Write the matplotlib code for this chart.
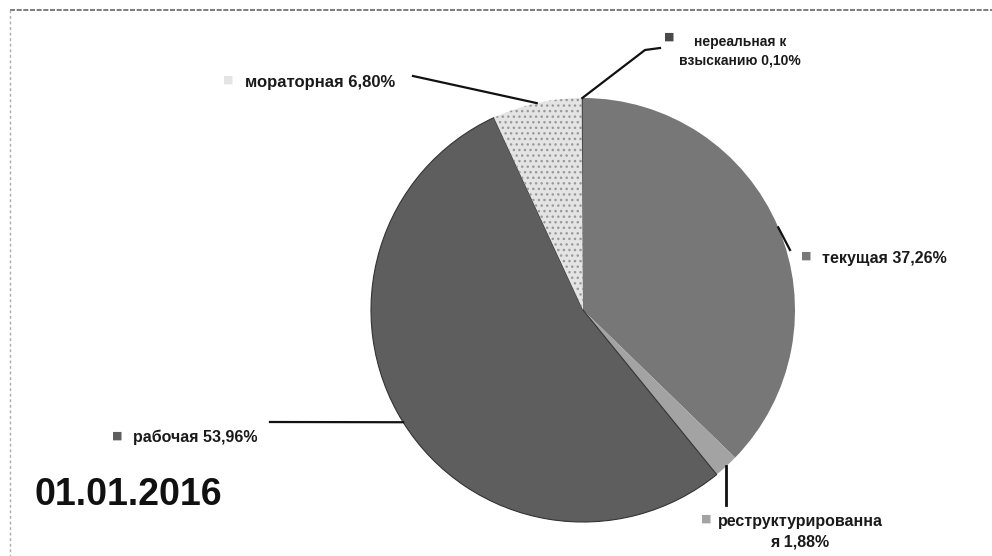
import matplotlib
matplotlib.use("Agg")
import matplotlib.pyplot as plt
from matplotlib.lines import Line2D
import numpy as np

# Data (clockwise from 12 o'clock)
categories = ["текущая", "реструктурированная", "рабочая", "мораторная", "нереальная к взысканию"]
shares = [37.26, 1.88, 53.96, 6.80, 0.10]
label_texts = [
    "текущая 37,26%",
    "реструктурированна\nя 1,88%",
    "рабочая 53,96%",
    "мораторная 6,80%",
    "нереальная к\nвзысканию 0,10%",
]
title = "01.01.2016"

colors = ["#777777", "#a3a3a3", "#5e5e5e", "#e4e4e4", "#4a4a4a"]
hatches = ["", "", "", "...", ""]
hatch_cols = ["#777777", "#a3a3a3", "#5e5e5e", "#9a9a9a", "#4a4a4a"]

W, H = 992, 556
fig = plt.figure(figsize=(W / 100, H / 100), dpi=100)
fig.patch.set_facecolor("white")

# pie placed by pixel center / radius
cx, cy, r = 583, 310, 212
ax = fig.add_axes([(cx - r) / W, (H - cy - r) / H, 2 * r / W, 2 * r / H])
ax.axis("off")

wedges, _ = ax.pie(shares, colors=colors, startangle=90, counterclock=False,
                   radius=1, wedgeprops=dict(linewidth=0))
ax.set_xlim(-1, 1)
ax.set_ylim(-1, 1)
ax.set_aspect("equal")
for w, h, hc in zip(wedges, hatches, hatch_cols):
    if h:
        w.set_hatch(h)
        w.set_edgecolor(hc)
wedges[2].set_edgecolor("#333333")
wedges[2].set_linewidth(0.8)


def px(x, y):
    # pixel (top-left origin) -> figure fraction
    return x / W, 1 - y / H


def wedge_point(i, rr=1.0):
    w = wedges[i]
    ang = np.deg2rad((w.theta1 + w.theta2) / 2)
    d = ax.transData.transform((rr * np.cos(ang), rr * np.sin(ang)))
    return fig.transFigure.inverted().transform(d)


def leader(i, pts):
    start = wedge_point(i)
    xs = [start[0]] + [px(*p)[0] for p in pts]
    ys = [start[1]] + [px(*p)[1] for p in pts]
    fig.add_artist(Line2D(xs, ys, transform=fig.transFigure, color="#111111", lw=1.6))


# leader lines (label ends are layout)
leader(0, [(790, 250)])
s = wedge_point(1)
fig.add_artist(Line2D([s[0], s[0]], [s[1], px(0, 505)[1]], transform=fig.transFigure,
                      color="#111111", lw=2))
leader(2, [(270, 422)])
leader(3, [(413, 76)])
leader(4, [(645, 50), (660, 48)])

font = ["Liberation Sans", "DejaVu Sans"]
mk_kw = dict(fontsize=8, family="DejaVu Sans")

# label positions (pixel coords, top-left origin)
label_pos = [
    (822, 258, "left"),
    (800, 532, "center"),
    (133, 437, "left"),
    (245, 83, "left"),
    (740, 51, "center"),
]
label_sizes = [11.5, 11.5, 11.5, 12, 10]
marker_pos = [(806, 256), (706, 519), (117, 436), (228, 80), (669, 37)]

for i, (x, y, ha) in enumerate(label_pos):
    fx, fy = px(x, y)
    fig.text(fx, fy, label_texts[i], ha=ha, va="center", linespacing=1.45,
             fontsize=label_sizes[i], fontweight="bold", family=font, color="#1a1a1a")
    mx, my = px(*marker_pos[i])
    fig.text(mx, my, "■", ha="center", va="center", color=colors[i], **mk_kw)

tx, ty = px(35, 495)
fig.text(tx, ty, title, ha="left", va="center", fontsize=27, fontweight="bold",
         family=font, color="#111111")

# frame (top and left edge of scanned box)
fig.add_artist(Line2D([px(10, 10)[0], 1.0], [px(10, 10)[1]] * 2, transform=fig.transFigure,
                      color="#666666", lw=1.2, ls=(0, (3, 1))))
fig.add_artist(Line2D([px(10, 10)[0]] * 2, [px(10, 10)[1], 0.0], transform=fig.transFigure,
                      color="#aaaaaa", lw=1.0, ls=(0, (2, 2))))

fig.savefig("out.png", dpi=100)
